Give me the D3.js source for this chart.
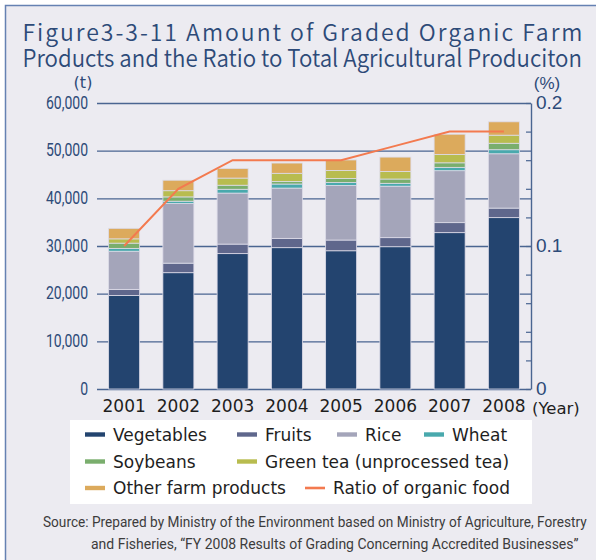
<!DOCTYPE html>
<html>
<head>
<meta charset="utf-8">
<script src="https://cdn.jsdelivr.net/npm/d3@7"></script>
<style>
  html, body { margin: 0; padding: 0; background: #ffffff; }
  svg { display: block; }
</style>
</head>
<body>
<svg id="chart" width="596" height="560"></svg>
<script>
// ---- Data (t) ----
const years = ["2001", "2002", "2003", "2004", "2005", "2006", "2007", "2008"];
const vegetables = [19600, 24400, 28400, 29650, 29000, 29850, 32800, 35950];
const fruits     = [1300, 2000, 2000, 1950, 2250, 1900, 2100, 2000];
const rice       = [8000, 12500, 10700, 10550, 11450, 10800, 10900, 11400];
const wheat      = [600, 500, 800, 850, 600, 600, 700, 850];
const soybeans   = [1100, 900, 850, 550, 850, 900, 950, 1350];
const greenTea   = [900, 1300, 1500, 1700, 1700, 1600, 1750, 1700];
const otherFarm  = [2200, 2200, 2000, 2150, 2200, 3000, 4250, 2800];
// ratio of organic food (%)
const ratio = [0.10, 0.14, 0.16, 0.16, 0.16, 0.17, 0.18, 0.18];

const seriesNames = ["Vegetables", "Fruits", "Rice", "Wheat", "Soybeans",
                     "Green tea (unprocessed tea)", "Other farm products"];
const lineName = "Ratio of organic food";
const leftTicks = [0, 10000, 20000, 30000, 40000, 50000, 60000];
const rightTickLabels = [0, 0.1, 0.2];
const rightMinorTicks = [0, 0.02, 0.04, 0.06, 0.08, 0.1, 0.12, 0.14, 0.16, 0.18, 0.2];
const titleLines = ["Figure3-3-11 Amount of Graded Organic Farm",
                    "Products and the Ratio to Total Agricultural Produciton"];
const sourceLines = ["Source: Prepared by Ministry of the Environment based on Ministry of Agriculture, Forestry",
                     "and Fisheries, \u201CFY 2008 Results of Grading Concerning Accredited Businesses\u201D"];

// ---- Styles ----
const colors = ["#23446f", "#5f678c", "#a4a5ba", "#49a9ad", "#7aae6d", "#b8bc4f", "#dcaa5c"];
const lineColor = "#f37a4f";
const navy = "#2d4a78";

const svg = d3.select("#chart");

// squeeze a text horizontally so its width equals target
function squeeze(sel, x0, y0, target) {
  const w = sel.node().getComputedTextLength();
  const k = Math.min(1, target / w);
  sel.attr("x", 0).attr("y", 0)
    .attr("transform", `translate(${x0},${y0}) scale(${k},1)`);
}
// spread a text with letter-spacing so its width equals target
function spread(sel, target) {
  const s = sel.text();
  const w = sel.node().getComputedTextLength();
  const ls = (target - w) / (s.length - 1);
  sel.attr("letter-spacing", ls);
}

// background panel
svg.append("rect")
  .attr("x", 5.5).attr("y", 5.5).attr("width", 620).attr("height", 620)
  .attr("fill", "#ecebf1").attr("stroke", "#6581b2").attr("stroke-width", 1.5);

// title
const titleFont = "'Noto Sans CJK JP', 'Noto Sans', sans-serif";
const t1 = svg.append("text").text(titleLines[0])
  .attr("x", 22.5).attr("y", 41)
  .attr("font-family", titleFont).attr("font-size", 23).attr("font-weight", 350)
  .attr("fill", navy);
spread(t1, 560);
const t2 = svg.append("text").text(titleLines[1])
  .attr("font-family", titleFont).attr("font-size", 24).attr("font-weight", 350)
  .attr("fill", navy);
squeeze(t2, 22.5, 66.5, 560);

// scales
const plotLeft = 97, plotRight = 531, plotTop = 103, plotBottom = 389;
const x = d3.scaleBand().domain(years).range([plotLeft, plotRight])
  .paddingInner(0.4286).paddingOuter(0.2143);
const y = d3.scaleLinear().domain([0, 60000]).range([plotBottom, plotTop]);
const yR = d3.scaleLinear().domain([0, 0.2]).range([plotBottom, plotTop]);

// left axis with gridlines
const gLeft = svg.append("g").attr("transform", `translate(${plotLeft},0)`)
  .call(d3.axisLeft(y).tickValues(leftTicks)
    .tickSize(-(plotRight - plotLeft)).tickPadding(9)
    .tickFormat(d3.format(",")));
gLeft.select(".domain").remove();
gLeft.selectAll(".tick line").attr("stroke", "#4a6591").attr("stroke-width", 1.4);
gLeft.selectAll(".tick text")
  .attr("font-family", "'Roboto', 'Liberation Sans', sans-serif")
  .attr("font-size", 17.5).attr("fill", navy).attr("dy", "0.3em")
  .each(function () {
    const w = this.getComputedTextLength();
    d3.select(this).attr("textLength", w * 0.8).attr("lengthAdjust", "spacingAndGlyphs");
  });

// stacked bars
const table = years.map((yr, i) => ({
  year: yr,
  s0: vegetables[i], s1: fruits[i], s2: rice[i], s3: wheat[i],
  s4: soybeans[i], s5: greenTea[i], s6: otherFarm[i]
}));
const keys = ["s0", "s1", "s2", "s3", "s4", "s5", "s6"];
const stacked = d3.stack().keys(keys)(table);

svg.append("g").selectAll("g").data(stacked).join("g")
  .attr("fill", (d, i) => colors[i])
  .selectAll("rect").data(d => d).join("rect")
  .attr("x", d => x(d.data.year))
  .attr("width", x.bandwidth())
  .attr("y", d => y(d[1]))
  .attr("height", d => y(d[0]) - y(d[1]))
  .attr("stroke", "#dcdbe8").attr("stroke-width", 0.8);

// right axis
const gR = svg.append("g").attr("transform", `translate(${plotRight},0)`)
  .call(d3.axisRight(yR).tickValues(rightMinorTicks)
    .tickSizeInner(-5).tickSizeOuter(0).tickFormat(""));
gR.select(".domain").attr("stroke", "#4a6591").attr("stroke-width", 1.4);
gR.selectAll(".tick line").attr("stroke", "#4a6591").attr("stroke-width", 1.2);

const gR2 = svg.append("g").attr("transform", `translate(${plotRight},0)`)
  .call(d3.axisRight(yR).tickValues(rightTickLabels)
    .tickSize(0).tickPadding(5).tickFormat(d => d === 0 ? "0" : d3.format(".1f")(d)));
gR2.select(".domain").remove();
gR2.selectAll(".tick text")
  .attr("font-family", "'Liberation Sans', Arial, sans-serif")
  .attr("font-size", 19).attr("fill", navy).attr("dy", "0.3em");

// ratio line
const line = d3.line()
  .x((d, i) => x(years[i]) + x.bandwidth() / 2)
  .y(d => yR(d));
svg.append("path").datum(ratio)
  .attr("d", line).attr("fill", "none")
  .attr("stroke", lineColor).attr("stroke-width", 2);

// axis unit labels
svg.append("text").text("(t)")
  .attr("x", 83).attr("y", 88).attr("text-anchor", "middle")
  .attr("font-family", "'DejaVu Sans', sans-serif").attr("font-size", 16)
  .attr("fill", navy);
svg.append("text").text("(%)")
  .attr("x", 547).attr("y", 89).attr("text-anchor", "middle")
  .attr("font-family", "'Liberation Sans', sans-serif").attr("font-size", 17)
  .attr("fill", navy);

// x labels
const gX = svg.append("g").attr("transform", `translate(0,${plotBottom})`)
  .call(d3.axisBottom(x).tickSize(0).tickPadding(18));
gX.select(".domain").remove();
gX.selectAll(".tick text")
  .attr("font-family", "'DejaVu Sans', sans-serif")
  .attr("font-size", 17).attr("fill", "#1e1e1e").attr("dy", "0.3em");
svg.append("text").text("(Year)")
  .attr("x", 532).attr("y", 413.5)
  .attr("font-family", "'DejaVu Sans', sans-serif").attr("font-size", 16.5)
  .attr("fill", "#1e1e1e");

// legend
svg.append("rect").attr("x", 70).attr("y", 420).attr("width", 462).attr("height", 84)
  .attr("fill", "#ffffff");
const legendPos = [[85, 434.5], [237, 434.5], [337, 434.5], [424, 434.5],
                   [85, 461.5], [237, 461.5], [85, 488], [305, 488]];
const legendItems = seriesNames.map((n, i) => ({name: n, color: colors[i], type: "bar"}))
  .concat([{name: lineName, color: lineColor, type: "line"}]);
const lg = svg.append("g").selectAll("g").data(legendItems).join("g")
  .attr("transform", (d, i) => `translate(${legendPos[i][0]},${legendPos[i][1]})`);
lg.append("rect")
  .attr("x", 0).attr("width", 20)
  .attr("y", d => d.type === "bar" ? -2.2 : -1.3)
  .attr("height", d => d.type === "bar" ? 4.4 : 2.6)
  .attr("fill", d => d.color);
lg.append("text").text(d => d.name)
  .attr("x", 28).attr("y", 6.3)
  .attr("font-family", "'DejaVu Sans', sans-serif").attr("font-size", 17)
  .attr("fill", "#1e1e1e");

// source
const srcFont = "'Roboto', 'Liberation Sans', sans-serif";
const s1 = svg.append("text").text(sourceLines[0])
  .attr("font-family", srcFont).attr("font-size", 14).attr("fill", "#3c3c3c");
squeeze(s1, 43, 527, 544);
const s2 = svg.append("text").text(sourceLines[1])
  .attr("font-family", srcFont).attr("font-size", 14).attr("fill", "#3c3c3c");
squeeze(s2, 91, 549, 488);
</script>
</body>
</html>
